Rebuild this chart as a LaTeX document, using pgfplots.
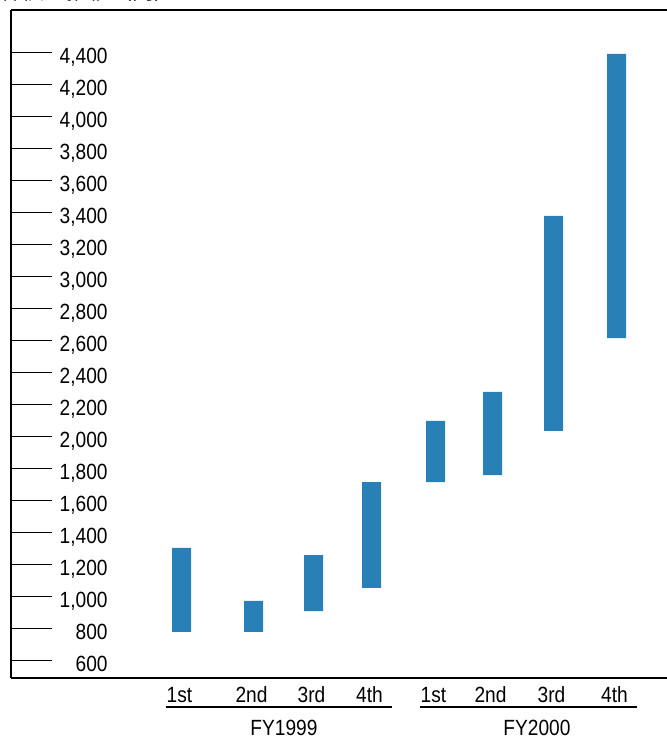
\documentclass[border=0pt]{standalone}
\usepackage{fontspec}
\setmainfont{Liberation Sans}[FakeStretch=0.87]
\newfontfamily\cjk{Noto Sans CJK JP}
\usepackage{pgfplots}
\usepackage{pgfplotstable}
\pgfplotsset{compat=1.18}
\definecolor{barblue}{RGB}{41,128,183}
\newcommand\lbl{\fontsize{11pt}{13pt}\selectfont}

% quarterly low / high (yen), x = bar centre
\pgfplotstableread{
x     low  high
181.5 777  1302
253.5 777  971
313.5 908  1258
371.5 1052 1714
435.5 1714 2096
492.5 1758 2277
553.5 2033 3377
616.5 2614 4389
}\prices

\begin{document}
\begin{tikzpicture}
\path[use as bounding box, clip] (-5.5pt,-30pt) rectangle (328pt,339pt);
\node[anchor=base west, inner sep=0pt, font=\cjk\lbl] at (-5.5pt,339.25pt) {株価の推移（円）};
\begin{axis}[
  scale only axis,
  width=328pt, height=334pt,
  xmin=11, xmax=667,
  ymin=489.4, ymax=4664,
  axis x line=box, axis y line=left,
  axis line style={-, line width=0.6pt, black},
  every outer x axis line/.append style={-},
  every outer y axis line/.append style={-},
  ybar stacked, bar width=9.5pt,
  xtick=data,
  xticklabels={1st,2nd,3rd,4th,1st,2nd,3rd,4th},
  xtick style={draw=none},
  xticklabel pos=bottom,
  xticklabel style={anchor=base, xshift=-1pt, yshift=-12.5pt, inner sep=0pt, font=\lbl},
  ytick={600,800,...,4400},
  tick align=inside,
  major tick length=20.5pt,
  ytick style={line width=0.5pt, black},
  yticklabel style={anchor=base east, xshift=48.5pt, yshift=-5.6pt, inner sep=0pt, font=\lbl,
    /pgf/number format/1000 sep={,}},
  /pgf/number format/assume math mode=true,
]
\addplot[draw=none, fill=none] table[x=x, y=low] {\prices};
\addplot[draw=none, fill=barblue] table[x=x, y expr=\thisrow{high}-\thisrow{low}] {\prices};
\end{axis}
\draw[line width=0.6pt] (77.5pt,-14.5pt) -- (190.5pt,-14.5pt);
\draw[line width=0.6pt] (204.5pt,-14.5pt) -- (313pt,-14.5pt);
\node[anchor=base, inner sep=0pt, font=\lbl] at (136.5pt,-28.5pt) {FY1999};
\node[anchor=base, inner sep=0pt, font=\lbl] at (263pt,-28.5pt) {FY2000};
\end{tikzpicture}
\end{document}
